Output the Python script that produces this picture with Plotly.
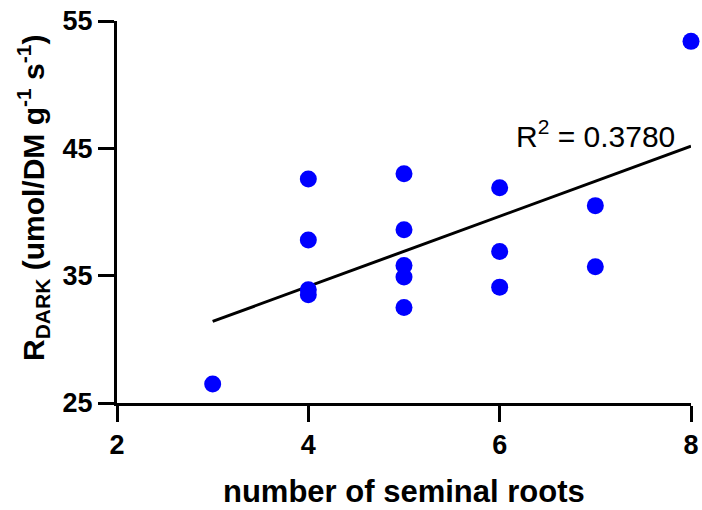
import numpy as np
import plotly.graph_objects as go

# Seminal root count vs. dark respiration
roots = [3, 4, 4, 4, 4, 5, 5, 5, 5, 5, 6, 6, 6, 7, 7, 8]
r_dark = [26.5, 42.6, 37.8, 33.9, 33.5, 43.0, 38.6, 35.8, 34.9, 32.5,
          41.9, 36.9, 34.1, 40.5, 35.7, 53.4]

x_ticks = [2, 4, 6, 8]
y_ticks = [25, 35, 45, 55]
r2_label = "0.3780"

# Linear fit drawn across the observed range
slope, intercept = np.polyfit(roots, r_dark, 1)
fit_x = [min(roots), max(roots)]
fit_y = [slope * v + intercept for v in fit_x]

FONT = "Arial, Liberation Sans, sans-serif"

fig = go.Figure()
fig.add_trace(go.Scatter(
    x=fit_x, y=fit_y, mode="lines",
    line=dict(color="black", width=3),
    hoverinfo="skip", cliponaxis=False,
))
fig.add_trace(go.Scatter(
    x=roots, y=r_dark, mode="markers",
    marker=dict(color="#0000FF", size=17, line=dict(width=0)),
    cliponaxis=False,
))

axis_common = dict(
    showline=True, linecolor="black", linewidth=3,
    ticks="outside", ticklen=16, tickwidth=3, tickcolor="black",
    showgrid=False, zeroline=False, automargin=False,
    tickfont=dict(family=FONT, size=27, color="black", weight="bold"),
)

fig.update_layout(
    width=702, height=510,
    margin=dict(l=117, r=11, t=21, b=107, autoexpand=False),
    plot_bgcolor="white", paper_bgcolor="white",
    showlegend=False,
    xaxis=dict(range=[2, 8], tickvals=x_ticks, **axis_common),
    yaxis=dict(range=[25, 55], tickvals=y_ticks, **axis_common),
    font=dict(family=FONT, color="black"),
)

# x-axis title
fig.add_annotation(
    text="<b>number of seminal roots</b>",
    xref="paper", yref="paper", x=0.5, y=0,
    xanchor="center", yanchor="top", yshift=-69,
    showarrow=False, font=dict(family=FONT, size=31, color="black"),
)

# y-axis title
fig.add_annotation(
    text="<b>R<sub>DARK</sub> (umol/DM g<sup>-1</sup> s<sup>-1</sup>)</b>",
    xref="paper", yref="paper", x=0, y=0.5,
    xanchor="center", yanchor="middle", xshift=-84, yshift=14,
    textangle=-90,
    showarrow=False, font=dict(family=FONT, size=30, color="black"),
)

# Coefficient of determination
fig.add_annotation(
    text=f"R<sup>2</sup> = {r2_label}",
    xref="x", yref="y", x=7.0, y=46.1,
    xanchor="center", yanchor="middle",
    showarrow=False, font=dict(family=FONT, size=30, color="black"),
)

fig.write_html("out.html")
